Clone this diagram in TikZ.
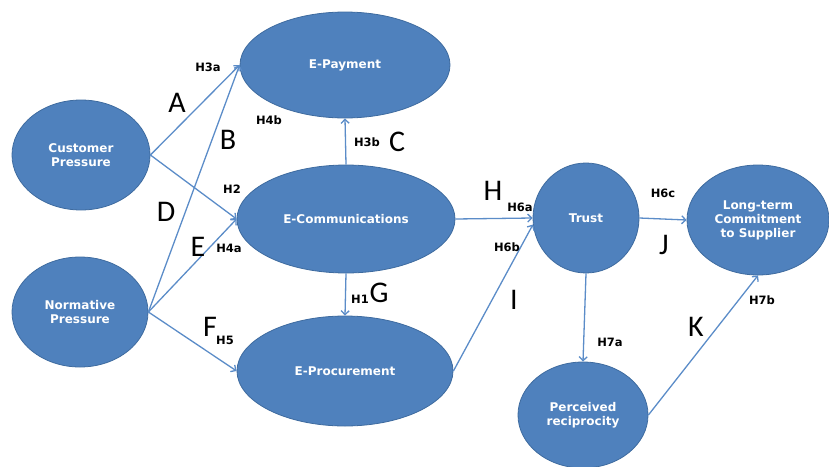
\documentclass[tikz,border=0pt]{standalone}
\usepackage{fontspec}
\setmainfont{DejaVu Sans}
\newfontfamily\letterfont{Carlito}
\usetikzlibrary{shapes.geometric,arrows.meta}
\definecolor{nodeblue}{HTML}{4F81BD}
\definecolor{edgeblue}{HTML}{3E6B9F}
\definecolor{arrowblue}{HTML}{5B8CC8}
\begin{document}
\begin{tikzpicture}[x=1pt,y=-1pt,
  construct/.style={ellipse, fill=nodeblue, draw=edgeblue, line width=0.8pt,
    text=white, font=\bfseries\fontsize{12}{14}\selectfont, align=center, inner sep=0pt},
  link/.style={draw=arrowblue, line width=1.3pt, -{Straight Barb[length=4pt,width=8pt]}},
  hyp/.style={font=\bfseries\fontsize{11.5}{13}\selectfont, inner sep=0pt},
  letter/.style={font=\letterfont\fontsize{30}{30}\selectfont, inner sep=0pt}]
\useasboundingbox (0,0) rectangle (829,466);

% constructs
\node[construct, minimum width=210pt, minimum height=106pt] (ep) at (345,65) {E-Payment};
\node[construct, minimum width=138pt, minimum height=110pt] (cp) at (81,155) {Customer\\Pressure};
\node[construct, minimum width=218pt, minimum height=108pt] (ec) at (346,219) {E-Communications};
\node[construct, minimum width=136pt, minimum height=110pt] (np) at (80,312) {Normative\\Pressure};
\node[construct, minimum width=216pt, minimum height=110pt] (eprc) at (345,371) {E-Procurement};
\node[construct, minimum width=106pt, minimum height=110pt] (tr) at (586,218) {Trust};
\node[construct, minimum width=142pt, minimum height=110pt] (lt) at (758,220) {Long-term\\Commitment\\to Supplier};
\node[construct, minimum width=130pt, minimum height=106pt] (pr) at (583,415) {Perceived\\reciprocity};

% hypothesised paths
\draw[link] (cp.east) -- (ep.west);
\draw[link] (np.east) -- (ep.west);
\draw[link] (cp.east) -- (ec.west);
\draw[link] (np.east) -- (ec.west);
\draw[link] (np.east) -- (eprc.west);
\draw[link] (ec.north) -- (ep.south);
\draw[link] (ec.south) -- (eprc.north);
\draw[link] (ec.east) -- (tr.west);
\draw[link] (eprc.east) -- (tr.187);
\draw[link] (tr.east) -- (lt.west);
\draw[link] (tr.south) -- (pr.north);
\draw[link] (pr.east) -- (lt.south);

% hypothesis labels
\node[hyp] (h3a) at (208,67) {H3a};
\node[hyp] (h4b) at (269,120) {H4b};
\node[hyp] (h3b) at (367,142) {H3b};
\node[hyp] (h2) at (232,189) {H2};
\node[hyp] (h4a) at (229,248) {H4a};
\node[hyp] (h1) at (360,299) {H1};
\node[hyp] (h5) at (225,340) {H5};
\node[hyp] (h6a) at (520,207) {H6a};
\node[hyp] (h6b) at (507,247) {H6b};
\node[hyp] (h6c) at (663,193) {H6c};
\node[hyp] (h7a) at (610,342) {H7a};
\node[hyp] (h7b) at (762,300) {H7b};

% path letters
\node[letter] (la) at (177,103) {A};
\node[letter] (lb) at (228,140) {B};
\node[letter] (lc) at (397,142) {C};
\node[letter] (ld) at (166,212) {D};
\node[letter] (le) at (198,247) {E};
\node[letter] (lf) at (210,327) {F};
\node[letter] (lg) at (379,293) {G};
\node[letter] (lh) at (493,191) {H};
\node[letter] (li) at (514,300) {I};
\node[letter] (lj) at (664,245) {J};
\node[letter] (lk) at (696,327) {K};
\end{tikzpicture}
\end{document}
